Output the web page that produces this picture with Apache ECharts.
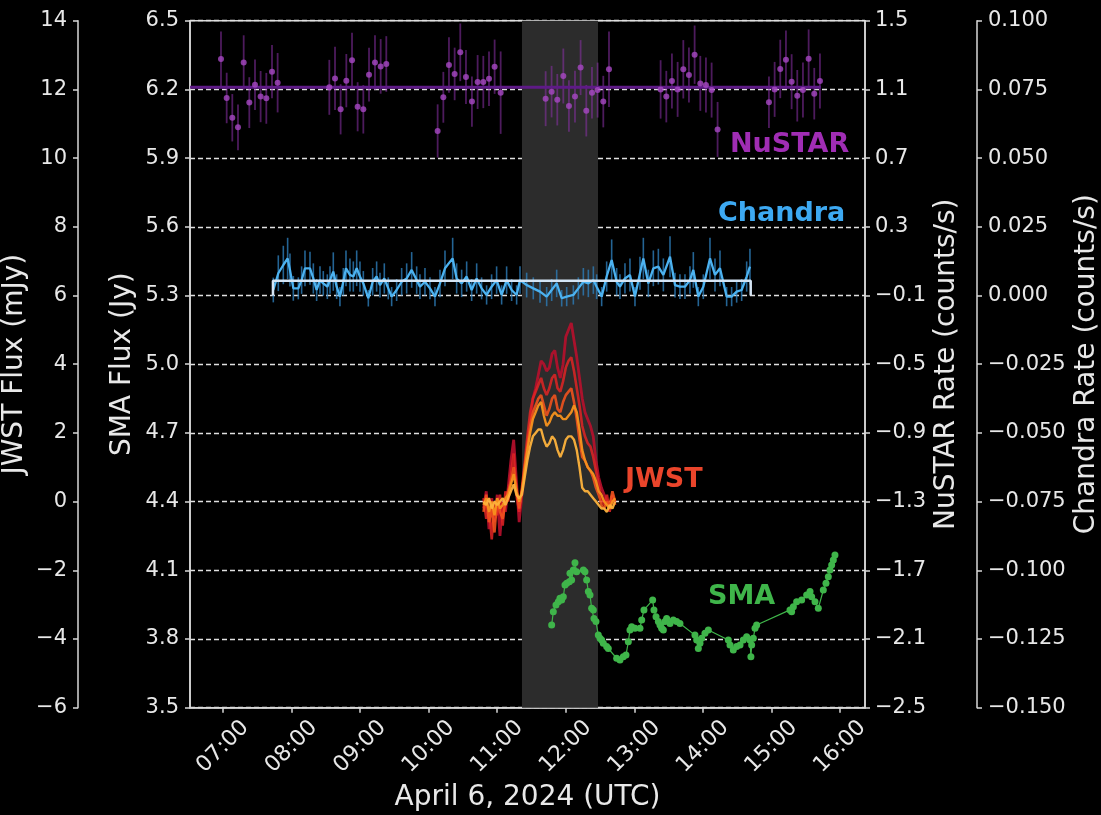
<!DOCTYPE html>
<html>
<head>
<meta charset="utf-8">
<script src="https://cdn.jsdelivr.net/npm/echarts@6/dist/echarts.min.js"></script>
<style>
html,body{margin:0;padding:0;background:#000;}
#chart{width:1101px;height:815px;}
</style>
</head>
<body>
<div id="chart"></div>
<script>
// ---------------- DATA ----------------
const xTickHours = [7, 8, 9, 10, 11, 12, 13, 14, 15, 16];
const xRange = [6.519, 16.364];
const flareWindow = [11.361, 12.470];

// NuSTAR: [hour, rate, error]
const nustarData = [
  [6.971,1.277,0.160],[7.054,1.050,0.147],[7.136,0.935,0.138],[7.219,0.879,0.133],[7.302,1.256,0.159],
  [7.384,1.023,0.148],[7.467,1.127,0.147],[7.549,1.058,0.149],[7.632,1.048,0.148],[7.715,1.203,0.155],[7.797,1.139,0.173],
  [8.551,1.112,0.160],[8.634,1.164,0.184],[8.716,0.984,0.146],[8.799,1.151,0.155],[8.882,1.269,0.161],
  [8.964,0.999,0.143],[9.047,0.984,0.141],[9.130,1.186,0.157],[9.217,1.256,0.160],[9.300,1.234,0.159],[9.382,1.248,0.162],
  [10.131,0.858,0.155],[10.214,1.054,0.148],[10.296,1.242,0.162],[10.379,1.190,0.153],[10.461,1.316,0.168],
  [10.544,1.172,0.157],[10.631,1.029,0.146],[10.714,1.143,0.157],[10.797,1.143,0.152],[10.880,1.162,0.158],
  [10.962,1.232,0.158],[11.050,1.081,0.240],
  [11.706,1.046,0.16],[11.793,1.087,0.15],[11.876,1.040,0.15],[11.964,1.178,0.16],[12.046,1.003,0.15],
  [12.134,1.058,0.15],[12.216,1.227,0.16],[12.299,0.976,0.15],[12.382,1.081,0.15],[12.464,1.096,0.16],
  [12.547,1.029,0.15],[12.630,1.217,0.22],
  [13.383,1.100,0.17],[13.466,1.058,0.15],[13.548,1.149,0.16],[13.631,1.100,0.16],[13.714,1.217,0.17],
  [13.796,1.184,0.16],[13.879,1.302,0.17],[13.962,1.135,0.16],[14.044,1.126,0.16],[14.127,1.096,0.16],[14.214,0.867,0.16],
  [14.963,1.025,0.15],[15.046,1.100,0.16],[15.128,1.219,0.17],[15.211,1.273,0.17],[15.294,1.145,0.16],
  [15.376,1.063,0.15],[15.459,1.096,0.16],[15.542,1.279,0.17],[15.624,1.075,0.15],[15.707,1.149,0.16]
];
const nustarMean = 1.112;
const nustarMeanSpan = [6.52, 15.72];

// Chandra: [hour, rate, error]
const chandraData = [
  [7.734,0.0020,0.0045],[7.807,0.0081,0.0065],[7.880,0.0111,0.0070],[7.943,0.0135,0.0075],[7.977,0.0093,0.0060],
  [8.026,0.0026,0.0045],[8.099,0.0026,0.0040],[8.147,0.0056,0.0050],[8.196,0.0099,0.0065],[8.269,0.0099,0.0060],
  [8.318,0.0062,0.0055],[8.366,0.0020,0.0040],[8.415,0.0056,0.0050],[8.463,0.0044,0.0045],[8.522,0.0032,0.0045],
  [8.561,0.0056,0.0050],[8.609,0.0087,0.0070],[8.658,0.0032,0.0045],[8.706,-0.0004,0.0035],[8.755,0.0050,0.0050],
  [8.794,0.0099,0.0065],[8.852,0.0075,0.0060],[8.901,0.0069,0.0055],[8.950,0.0099,0.0065],[8.998,0.0069,0.0055],
  [9.047,0.0044,0.0045],[9.120,-0.0010,0.0030],[9.183,0.0050,0.0050],[9.241,0.0069,0.0055],[9.290,0.0038,0.0045],
  [9.353,0.0062,0.0055],[9.411,0.0026,0.0040],[9.460,-0.0004,0.0035],[9.533,0.0020,0.0040],[9.606,0.0050,0.0050],
  [9.679,0.0062,0.0055],[9.752,0.0093,0.0065],[9.825,0.0056,0.0050],[9.873,0.0032,0.0045],[9.946,0.0050,0.0050],
  [10.019,0.0026,0.0040],[10.092,-0.0004,0.0035],[10.165,0.0044,0.0050],[10.238,0.0099,0.0065],[10.350,0.0135,0.0075],
  [10.408,0.0062,0.0055],[10.481,0.0044,0.0050],[10.554,0.0069,0.0055],[10.627,0.0020,0.0040],[10.700,0.0062,0.0055],
  [10.772,0.0026,0.0040],[10.845,0.0002,0.0035],[10.918,0.0032,0.0045],[10.991,0.0056,0.0050],[11.064,0.0002,0.0035],
  [11.137,0.0056,0.0050],[11.210,0.0020,0.0040],[11.283,0.0002,0.0035],
  [11.332,0.0056,0.0050],[11.429,0.0038,0.0045],[11.526,0.0026,0.0040],[11.624,0.0014,0.0040],[11.721,-0.0004,0.0035],
  [11.794,0.0020,0.0040],[11.867,0.0044,0.0050],[11.940,-0.0010,0.0030],[12.013,-0.0004,0.0035],[12.110,0.0002,0.0035],
  [12.183,0.0026,0.0040],[12.256,0.0050,0.0050],[12.329,0.0044,0.0050],[12.402,0.0056,0.0050],[12.450,0.0032,0.0045],
  [12.523,-0.0004,0.0035],[12.596,0.0069,0.0055],[12.669,0.0129,0.0075],[12.742,0.0050,0.0050],[12.790,0.0032,0.0045],
  [12.863,0.0062,0.0055],[12.936,0.0075,0.0060],[13.009,-0.0004,0.0035],[13.082,0.0081,0.0060],[13.131,0.0135,0.0075],
  [13.204,0.0044,0.0050],[13.277,0.0099,0.0065],[13.350,0.0105,0.0065],[13.423,0.0075,0.0060],[13.520,0.0141,0.0075],
  [13.593,0.0038,0.0045],[13.665,0.0032,0.0045],[13.738,0.0032,0.0045],[13.811,0.0056,0.0050],[13.860,0.0093,0.0065],
  [13.933,-0.0004,0.0035],[14.006,0.0032,0.0045],[14.103,0.0135,0.0075],[14.176,0.0075,0.0060],[14.249,0.0099,0.0065],
  [14.346,-0.0004,0.0035],[14.419,-0.0004,0.0035],[14.492,0.0014,0.0040],[14.565,0.0020,0.0040],[14.638,0.0069,0.0055],
  [14.686,0.0105,0.0065]
];
const chandraBlockLevel = 0.0054;
const chandraBlockSpan = [7.729, 14.697];

// JWST (mJy), several bands on a common time grid
const jwstTime = [10.80,10.84,10.88,10.92,10.96,11.00,11.04,11.08,11.12,11.16,11.20,11.24,11.28,11.32,11.36,11.40,11.44,11.48,11.52,11.56,11.60,11.64,11.68,11.72,11.76,11.80,11.84,11.88,11.92,11.96,12.00,12.04,12.08,12.12,12.16,12.20,12.24,12.28,12.32,12.36,12.40,12.44,12.48,12.52,12.56,12.60,12.64,12.68,12.72];
const jwstCrimson = [-0.2,0.3,-0.8,0.1,-0.6,0.2,-1.0,0.0,-0.3,0.4,1.2,1.8,0.6,-0.6,0.2,0.9,1.6,2.3,3.0,3.3,3.7,4.1,4.0,3.8,3.9,4.3,4.4,3.9,3.6,4.0,4.8,5.0,5.2,4.7,4.2,3.6,3.0,2.6,2.4,2.2,1.9,1.2,0.7,0.4,0.2,0.0,-0.2,0.1,0.0];
const jwstRed = [0.1,-0.5,-0.2,-1.1,0.0,-0.4,0.2,-0.7,0.3,0.0,0.8,1.4,0.2,-0.3,0.4,1.1,1.9,2.6,3.0,3.2,3.4,3.6,3.3,3.1,3.3,3.6,3.7,3.3,3.2,3.5,3.9,4.1,4.2,3.8,3.3,2.8,2.2,1.9,1.7,1.6,1.3,0.9,0.5,0.1,-0.1,0.2,-0.3,0.2,-0.1];
const jwstOrangeRed = [-0.3,0.2,-0.6,-0.2,-0.9,0.1,-0.3,-0.5,0.0,0.3,0.6,1.0,0.4,-0.2,0.3,1.0,1.6,2.2,2.6,2.8,3.0,3.1,2.8,2.5,2.7,3.0,3.1,2.7,2.6,2.9,3.1,3.2,3.3,2.9,2.4,1.8,1.3,1.2,1.0,0.9,0.7,0.4,0.2,-0.1,-0.2,0.0,-0.1,0.3,0.0];
const jwstOrange = [-0.1,0.1,-0.3,0.0,-0.4,0.1,-0.2,-0.1,0.1,0.2,0.5,0.8,0.3,0.0,0.3,0.9,1.5,2.0,2.4,2.6,2.8,2.9,2.5,2.2,2.3,2.5,2.6,2.5,2.5,2.4,2.4,2.5,2.6,2.8,2.6,2.1,1.5,1.2,1.0,0.9,0.8,0.6,0.3,0.2,0.0,-0.1,-0.2,0.0,0.1];
const jwstYellow = [0.0,-0.1,0.1,-0.2,0.0,-0.1,0.0,0.1,-0.1,0.1,0.3,0.5,0.2,0.1,0.2,0.7,1.2,1.6,1.9,2.0,2.1,2.1,1.8,1.6,1.7,1.9,1.8,1.5,1.3,1.5,1.8,1.9,1.9,1.8,1.5,1.0,0.4,0.3,0.3,0.2,0.1,0.0,-0.1,-0.2,-0.2,-0.3,-0.1,-0.2,0.0];

// SMA (Jy): [hour, flux]
const smaData = [
  [11.794,3.861],[11.818,3.919],[11.857,3.948],[11.891,3.963],[11.915,3.978],[11.940,3.970],[11.964,3.985],
  [11.988,4.036],[12.013,4.043],[12.051,4.050],[12.061,4.087],[12.085,4.058],[12.110,4.101],[12.134,4.133],
  [12.158,4.094],[12.256,4.101],[12.280,4.094],[12.304,4.058],[12.329,4.007],[12.353,3.992],[12.377,3.934],
  [12.402,3.927],[12.411,3.890],[12.440,3.876],[12.474,3.817],[12.499,3.803],[12.523,3.796],[12.547,3.781],
  [12.596,3.767],[12.620,3.759],[12.742,3.716],[12.790,3.708],[12.839,3.723],[12.878,3.730],[12.912,3.788],
  [12.936,3.839],[12.961,3.854],[13.009,3.847],[13.082,3.847],[13.107,3.883],[13.140,3.927],[13.267,3.970],
  [13.286,3.927],[13.316,3.897],[13.350,3.876],[13.374,3.861],[13.398,3.847],[13.423,3.839],[13.447,3.876],
  [13.471,3.890],[13.520,3.868],[13.568,3.883],[13.617,3.876],[13.665,3.868],[13.884,3.817],[13.909,3.796],
  [13.933,3.759],[13.957,3.781],[13.982,3.803],[14.030,3.825],[14.079,3.839],[14.370,3.796],[14.395,3.774],
  [14.443,3.752],[14.492,3.767],[14.541,3.774],[14.589,3.796],[14.638,3.810],[14.686,3.796],[14.700,3.723],
  [14.711,3.774],[14.735,3.803],[14.760,3.847],[14.784,3.861],[15.270,3.927],[15.294,3.919],[15.319,3.941],
  [15.367,3.963],[15.440,3.970],[15.513,3.992],[15.562,4.007],[15.586,3.985],[15.635,3.963],[15.683,3.934],
  [15.756,4.014],[15.795,4.043],[15.829,4.072],[15.853,4.101],[15.878,4.123],[15.902,4.145],[15.926,4.167]
];

// ---------------- CHART ----------------
const FONT = 'DejaVu Sans';
const TXT = '#e8e8e8';
const AX = '#d8d8d8';
const minus = s => s.replace('-', '\u2212');
const fmt = d => v => { if (Math.abs(v) < 1e-9) v = 0; return minus(v.toFixed(d)); };

function yAx(opts) {
  return Object.assign({
    type: 'value',
    nameLocation: 'middle',
    nameRotate: 90,
    nameMoveOverlap: false,
    nameTextStyle: { color: TXT, fontFamily: FONT, fontSize: 28 },
    axisLine: { show: true, lineStyle: { color: AX, width: 1.5 } },
    axisTick: { show: true, length: 5, lineStyle: { color: AX, width: 1.5 } },
    splitLine: { show: false }
  }, opts);
}
const tickLabel = (margin, d) => ({ color: TXT, fontFamily: FONT, fontSize: 21, margin, formatter: fmt(d) });

const errRender = (color, width) => (params, api) => {
  const x = api.value(0), v = api.value(1), e = api.value(2);
  const p1 = api.coord([x, v - e]);
  const p2 = api.coord([x, v + e]);
  return { type: 'line', shape: { x1: p1[0], y1: p1[1], x2: p2[0], y2: p2[1] },
           style: { stroke: color, lineWidth: width } };
};

const jwstSeries = (vals, color, width, opacity) => ({
  type: 'line', xAxisIndex: 0, yAxisIndex: 1, symbol: 'none', z: 5,
  data: jwstTime.map((t, i) => [t, vals[i]]),
  lineStyle: { color, width, opacity }
});

const chart = echarts.init(document.getElementById('chart'), null, { renderer: 'canvas' });
chart.setOption({
  backgroundColor: '#000',
  animation: false,
  grid: { left: 190, right: 236, top: 20.7, bottom: 107.3, show: true, containLabel: false,
          outerBoundsMode: 'none',
          borderColor: AX, borderWidth: 1.5, backgroundColor: 'transparent' },
  xAxis: {
    type: 'value', min: xRange[0], max: xRange[1],
    name: 'April 6, 2024 (UTC)', nameLocation: 'middle', nameGap: 76, nameMoveOverlap: false,
    nameTextStyle: { color: TXT, fontFamily: FONT, fontSize: 28 },
    axisLine: { show: true, onZero: false, lineStyle: { color: AX, width: 1.5 } },
    axisTick: { show: true, length: 5, customValues: xTickHours, lineStyle: { color: AX, width: 1.5 } },
    axisLabel: { customValues: xTickHours, rotate: 45, align: 'center', verticalAlign: 'middle',
                 color: TXT, fontFamily: FONT, fontSize: 22, margin: 39,
                 formatter: v => String(v).padStart(2, '0') + ':00' },
    splitLine: { show: false }
  },
  yAxis: [
    yAx({ name: 'SMA Flux (Jy)', position: 'left', offset: 0, min: 3.5, max: 6.5, interval: 0.3, nameGap: 53.5,
          axisLabel: tickLabel(11, 1),
          splitLine: { show: true, lineStyle: { color: '#e0e0e0', width: 1.3, type: [5, 3] } } }),
    yAx({ name: 'JWST Flux (mJy)', position: 'left', offset: 112, min: -6, max: 14, interval: 2, nameGap: 49,
          axisLabel: tickLabel(11, 0) }),
    yAx({ name: 'NuSTAR Rate (counts/s)', position: 'right', offset: 0, min: -2.5, max: 1.5, interval: 0.4, nameGap: 68,
          axisLabel: tickLabel(10, 1) }),
    yAx({ name: 'Chandra Rate (counts/s)', position: 'right', offset: 112, min: -0.15, max: 0.1, interval: 0.025, nameGap: 96,
          axisLabel: tickLabel(11, 3) })
  ],
  series: [
    { type: 'line', yAxisIndex: 0, data: [[flareWindow[0], 5]], symbol: 'none', lineStyle: { opacity: 0 }, z: 0,
      markArea: { silent: true, itemStyle: { color: '#2c2c2c' },
                  data: [[{ xAxis: flareWindow[0] }, { xAxis: flareWindow[1] }]] } },
    // NuSTAR
    { type: 'line', yAxisIndex: 2, symbol: 'none', z: 3,
      data: [[nustarMeanSpan[0], nustarMean], [nustarMeanSpan[1], nustarMean]],
      lineStyle: { color: '#5e1a86', width: 3 } },
    { type: 'custom', yAxisIndex: 2, z: 2, data: nustarData, encode: { x: 0, y: 1 },
      renderItem: errRender('rgba(140,50,170,0.55)', 1.8) },
    { type: 'scatter', yAxisIndex: 2, z: 4, data: nustarData.map(d => [d[0], d[1]]),
      symbolSize: 6, itemStyle: { color: '#a848c4' } },
    // Chandra
    { type: 'custom', yAxisIndex: 3, z: 2, data: chandraData, encode: { x: 0, y: 1 },
      renderItem: errRender('rgba(45,125,185,0.8)', 1.6) },
    { type: 'line', yAxisIndex: 3, symbol: 'none', z: 3, data: chandraData.map(d => [d[0], d[1]]),
      lineStyle: { color: '#4cb2f0', width: 2.3 } },
    { type: 'line', yAxisIndex: 3, symbol: 'none', z: 4,
      data: [[chandraBlockSpan[0], 0], [chandraBlockSpan[0], chandraBlockLevel],
             [chandraBlockSpan[1], chandraBlockLevel], [chandraBlockSpan[1], 0]],
      lineStyle: { color: '#d4e4f4', width: 2.5 } },
    // JWST
    jwstSeries(jwstCrimson, '#b8102c', 2.8, 0.9),
    jwstSeries(jwstRed, '#e02424', 2.6, 0.85),
    jwstSeries(jwstOrangeRed, '#f0521e', 2.6, 0.9),
    jwstSeries(jwstOrange, '#f7921e', 2.4, 0.95),
    jwstSeries(jwstYellow, '#fdb23c', 2.4, 0.95),
    // SMA
    { type: 'line', yAxisIndex: 0, z: 5, data: smaData, symbol: 'circle', symbolSize: 7,
      itemStyle: { color: '#3fb54a' }, lineStyle: { color: '#3fb54a', width: 1.2 } }
  ],
  graphic: [
    { type: 'text', left: 730, top: 131, style: { text: 'NuSTAR', fill: '#a02db4', font: 'bold 27px "DejaVu Sans"' } },
    { type: 'text', left: 718, top: 200, style: { text: 'Chandra', fill: '#3da9f2', font: 'bold 27px "DejaVu Sans"' } },
    { type: 'text', left: 625, top: 466, style: { text: 'JWST', fill: '#ea452b', font: 'bold 27px "DejaVu Sans"' } },
    { type: 'text', left: 708, top: 583, style: { text: 'SMA', fill: '#3fb54a', font: 'bold 27px "DejaVu Sans"' } }
  ]
});
</script>
</body>
</html>
